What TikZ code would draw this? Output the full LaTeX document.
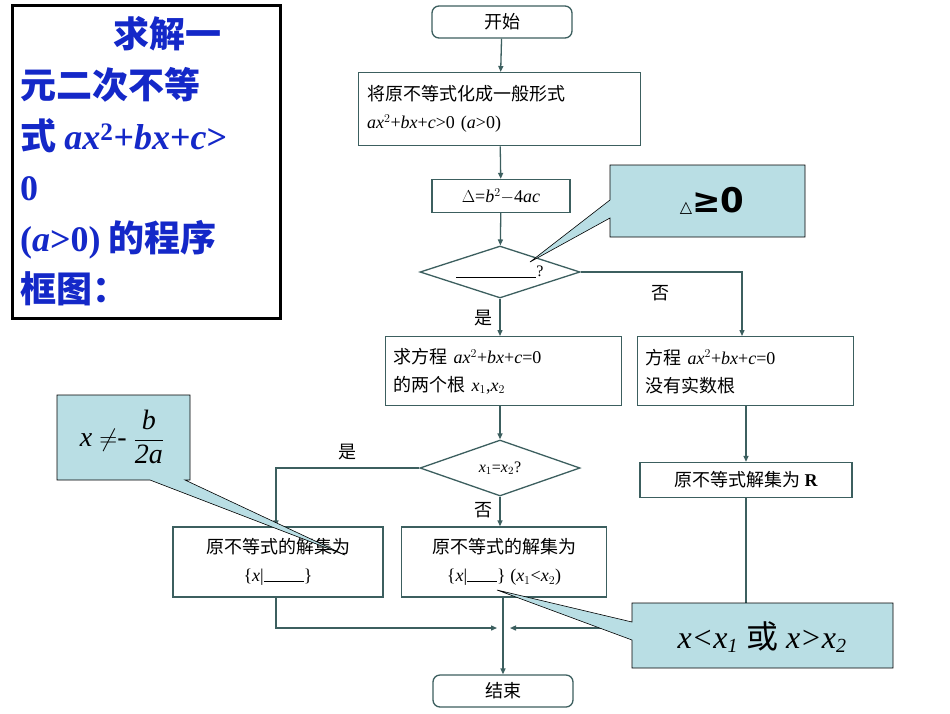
\documentclass[tikz,border=0pt]{standalone}
\usepackage{fontspec}
\setmainfont{Liberation Serif}
\newfontfamily\cjk{Noto Sans CJK SC}
\newfontfamily\dv{DejaVu Sans}
\usetikzlibrary{arrows.meta,shapes.geometric}
\definecolor{ln}{RGB}{60,95,95}
\definecolor{ttl}{RGB}{20,40,200}
\definecolor{cal}{RGB}{185,222,228}
\begin{document}
\begin{tikzpicture}[x=1pt,y=-1pt,
  box/.style={draw=ln,line width=1.3pt,inner sep=0pt,font=\fontsize{18}{28}\selectfont\cjk,align=left},
  term/.style={box,rounded corners=7pt},
  dia/.style={draw=ln,line width=1.3pt,diamond,aspect=2.9,inner sep=0pt,minimum width=160pt,minimum height=52pt,font=\fontsize{16}{18}\selectfont},
  ar/.style={draw=ln,line width=1.3pt,-{Triangle[length=6pt,width=5pt]}},
  ln/.style={draw=ln,line width=1.3pt},
  lab/.style={font=\fontsize{18}{18}\selectfont\cjk},
  callout/.style={fill=cal,draw=black,line width=0.6pt}]
\useasboundingbox (0,0) rectangle (950,713);
\fill[white] (0,0) rectangle (950,713);
% title box
\draw[line width=3pt,fill=white] (12,5) rectangle (280,318);
\node[anchor=north west,text=ttl,align=left,font=\fontsize{36}{51}\selectfont\bfseries\cjk,inner sep=0pt] (title) at (20,16)
 {\hspace*{2.6em}求解一\\元二次不等\\式 {\fontspec{Liberation Serif}\itshape ax}{\fontspec{Liberation Serif}$^{\mathbf 2}$}{\fontspec{Liberation Serif}+\itshape bx\upshape+\itshape c\upshape>}\\{\fontspec{Liberation Serif}0}\\{\fontspec{Liberation Serif}(\itshape a\upshape>0)} 的程序\\框图：};
% flowchart
\node[term,minimum width=140pt,minimum height=32pt,align=center] (start) at (502,22) {开始};
\node[box,minimum width=282pt,minimum height=73pt,anchor=north west,text width=265pt,inner xsep=8pt] (b1) at (358,72) {将原不等式化成一般形式\\{\rmfamily\itshape ax\upshape$^2$+\itshape bx\upshape+\itshape c\upshape>0 (\itshape a\upshape>0)}};
\node[box,minimum width=138pt,minimum height=33pt,align=center,font=\fontsize{18}{18}\selectfont] (delta) at (501,196) {$\Delta$=\itshape b\upshape$^2$$-$4\itshape ac};
\node[dia] (d1) at (500,272) {\rule[-1pt]{80pt}{0.6pt}?};
\node[box,minimum width=235pt,minimum height=69pt,anchor=north west,text width=220pt,inner xsep=8pt] (b2) at (385,336) {求方程 {\rmfamily\itshape ax\upshape$^2$+\itshape bx\upshape+\itshape c\upshape=0}\\的两个根 {\rmfamily\itshape x\upshape$_1$,\itshape x\upshape$_2$}};
\node[box,minimum width=216pt,minimum height=69pt,anchor=north west,text width=200pt,inner xsep=8pt] (b3) at (637,336) {方程 {\rmfamily\itshape ax\upshape$^2$+\itshape bx\upshape+\itshape c\upshape=0}\\没有实数根};
\node[dia,minimum height=56pt] (d2) at (500,468) {\itshape x\upshape$_1$=\itshape x\upshape$_2$?};
\node[box,minimum width=212pt,minimum height=35pt,align=center] (b4) at (746,480) {原不等式解集为 {\rmfamily\bfseries R}};
\node[box,minimum width=210pt,minimum height=70pt,align=center] (b5) at (278,562) {原不等式的解集为\\{\rmfamily\{\itshape x\upshape|\rule{40pt}{0.5pt}\}}};
\node[box,minimum width=205pt,minimum height=70pt,align=center] (b6) at (504,562) {原不等式的解集为\\{\rmfamily\{\itshape x\upshape|\rule{30pt}{0.5pt}\} (\itshape x\upshape$_1$<\itshape x\upshape$_2$)}};
\node[term,minimum width=140pt,minimum height=32pt,align=center] (end) at (503,691) {结束};
\coordinate (m) at (503,628);
\path[ar] (start) -- (b1);
\path[ar] (b1) -- (delta);
\path[ar] (delta) -- (d1);
\path[ar] (d1.south) -- (b2.north -| d1.south);
\path[ar] (d1.east) -| (b3.north -| 742,0);
\path[ar] (b2.south -| d2.north) -- (d2.north);
\path[ar] (d2.west) -| (b5.north -| 276,0);
\path[ar] (d2.south) -- (b6.north -| d2.south);
\path[ar] (b3.south -| 746,0) -- (b4.north);
\path[ar] (b4.south) |- ([xshift=7pt]m);
\path[ar] (b5.south -| 276,0) |- ([xshift=-6pt]m);
\path[ar] (b6.south -| m) -- (end.north);
\node[lab] (l1) at (660,293) {否};
\node[lab] (l2) at (483,318) {是};
\node[lab] (l3) at (347,452) {是};
\node[lab] (l4) at (483,510) {否};
% callouts
\path[callout] (610,165) -- (805,165) -- (805,237) -- (610,237) -- (610,218) -- (530,262) -- (610,200) -- cycle;
\node[font=\fontsize{34}{36}\selectfont\bfseries] (c1) at (712,201) {{\dv\fontsize{16}{18}\selectfont △}{\dv ≥0}};
\path[callout] (57,395) -- (190,395) -- (190,480) -- (185,480) -- (345,555) -- (150,480) -- (57,480) -- cycle;
\node[font=\fontsize{28}{30}\selectfont] (c2) at (122,437) {\itshape x {\upshape$\neq$-} $\displaystyle\frac{\mbox{\itshape b}}{\mbox{2\itshape a}}$};
\path[callout] (632,603) -- (893,603) -- (893,668) -- (632,668) -- (632,640) -- (497,590) -- (632,622) -- cycle;
\node[font=\fontsize{32}{34}\selectfont\itshape] (c3) at (762,637) {x<x\textsubscript{\fontsize{20}{20}\selectfont 1} {\cjk 或} x>x\textsubscript{\fontsize{20}{20}\selectfont 2}};
\end{tikzpicture}
\end{document}
